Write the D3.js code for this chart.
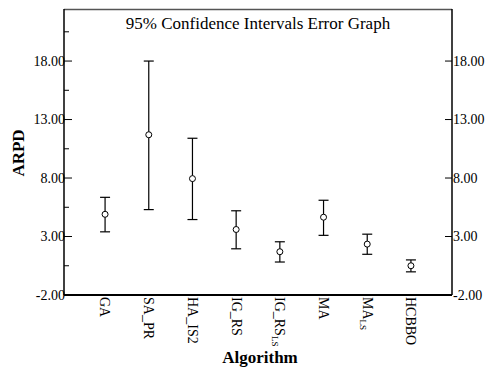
<!DOCTYPE html>
<html>
<head>
<meta charset="utf-8">
<style>
  body { margin: 0; background: #fff; }
  text { font-family: "Liberation Serif", "DejaVu Serif", serif; fill: #000; }
</style>
</head>
<body>
<svg width="489" height="373"></svg>
<script src="https://d3js.org/d3.v7.min.js"></script>
<script>

var algorithms = ["GA", "SA_PR", "HA_IS2", "IG_RS", "IG_RS|LS", "MA", "MA|LS", "HCBBO"];
var means  = [4.9, 11.7, 7.95, 3.6, 1.7, 4.65, 2.35, 0.5];
var uppers = [6.35, 18.0, 11.4, 5.2, 2.55, 6.1, 3.2, 1.0];
var lowers = [3.4, 5.3, 4.45, 1.95, 0.82, 3.1, 1.48, -0.02];
var majorTicks = [-2, 3, 8, 13, 18];
var minorTicks = [0.5, 5.5, 10.5, 15.5, 20.5];

var svg = d3.select("svg");
var pLeft = 64, pRight = 452, pTop = 9, pBottom = 295;

var x = d3.scalePoint()
    .domain(algorithms)
    .range([pLeft, pRight])
    .padding(0.94);

var y = d3.scaleLinear()
    .domain([-2, 22.45])
    .range([pBottom, pTop]);

// frame
svg.append("line")
    .attr("x1", pLeft).attr("x2", pRight)
    .attr("y1", pTop + 0.5).attr("y2", pTop + 0.5)
    .attr("stroke", "#555").attr("stroke-width", 1.5);
svg.append("line")
    .attr("x1", pLeft).attr("x2", pRight)
    .attr("y1", pBottom).attr("y2", pBottom)
    .attr("stroke", "#000").attr("stroke-width", 2);
svg.append("line")
    .attr("x1", pLeft).attr("x2", pLeft)
    .attr("y1", pTop).attr("y2", pBottom)
    .attr("stroke", "#000").attr("stroke-width", 1.5);
svg.append("line")
    .attr("x1", pRight).attr("x2", pRight)
    .attr("y1", pTop).attr("y2", pBottom)
    .attr("stroke", "#000").attr("stroke-width", 1.5);

// left ticks
svg.selectAll(".lmaj").data(majorTicks).enter().append("line")
    .attr("x1", pLeft).attr("x2", pLeft + 8)
    .attr("y1", function(d){ return y(d); }).attr("y2", function(d){ return y(d); })
    .attr("stroke", "#000");
svg.selectAll(".lmin").data(minorTicks).enter().append("line")
    .attr("x1", pLeft).attr("x2", pLeft + 5)
    .attr("y1", function(d){ return y(d); }).attr("y2", function(d){ return y(d); })
    .attr("stroke", "#000");
svg.selectAll(".llab").data(majorTicks).enter().append("text")
    .attr("x", pLeft + 1).attr("y", function(d){ return y(d); })
    .attr("dy", "0.35em")
    .attr("text-anchor", "end")
    .style("font-size", "14px")
    .text(function(d){ return d.toFixed(2); });

// right ticks
svg.selectAll(".rmaj").data(majorTicks).enter().append("line")
    .attr("x1", pRight - 7).attr("x2", pRight)
    .attr("y1", function(d){ return y(d); }).attr("y2", function(d){ return y(d); })
    .attr("stroke", "#000");
svg.selectAll(".rlab").data(majorTicks).enter().append("text")
    .attr("x", pRight + 1).attr("y", function(d){ return y(d); })
    .attr("dy", "0.35em")
    .style("font-size", "14px")
    .text(function(d){ return d.toFixed(2); });

// category labels, rotated
algorithms.forEach(function(a){
  var parts = a.split("|");
  var t = svg.append("text")
      .attr("transform", "translate(" + x(a) + "," + (pBottom + 2) + ") rotate(90)")
      .attr("dy", "0.33em")
      .style("font-size", "14px");
  t.append("tspan").text(parts[0]);
  if (parts[1]) {
    t.append("tspan").attr("dy", 3).style("font-size", "9px").text(parts[1].toUpperCase());
  }
});

// error bars
var g = svg.append("g");
algorithms.forEach(function(a, i){
  var cx = x(a);
  g.append("line")
      .attr("x1", cx).attr("x2", cx)
      .attr("y1", y(uppers[i])).attr("y2", y(lowers[i]))
      .attr("stroke", "#000").attr("stroke-width", 1.2);
  [uppers[i], lowers[i]].forEach(function(v){
    g.append("line")
        .attr("x1", cx - 5).attr("x2", cx + 5)
        .attr("y1", y(v)).attr("y2", y(v))
        .attr("stroke", "#000").attr("stroke-width", 1.2);
  });
  g.append("circle")
      .attr("cx", cx).attr("cy", y(means[i]))
      .attr("r", 3)
      .attr("fill", "#fff").attr("stroke", "#000").attr("stroke-width", 1);
});

// titles
svg.append("text")
    .attr("x", (pLeft + pRight) / 2).attr("y", 29)
    .attr("text-anchor", "middle")
    .style("font-size", "17px")
    .text("95% Confidence Intervals Error Graph");

svg.append("text")
    .attr("transform", "translate(24," + 153 + ") rotate(-90)")
    .attr("text-anchor", "middle")
    .style("font-size", "17px").style("font-weight", "bold")
    .text("ARPD");

svg.append("text")
    .attr("x", 260).attr("y", 363)
    .attr("text-anchor", "middle")
    .style("font-size", "17px").style("font-weight", "bold")
    .text("Algorithm");

</script>
</body>
</html>
